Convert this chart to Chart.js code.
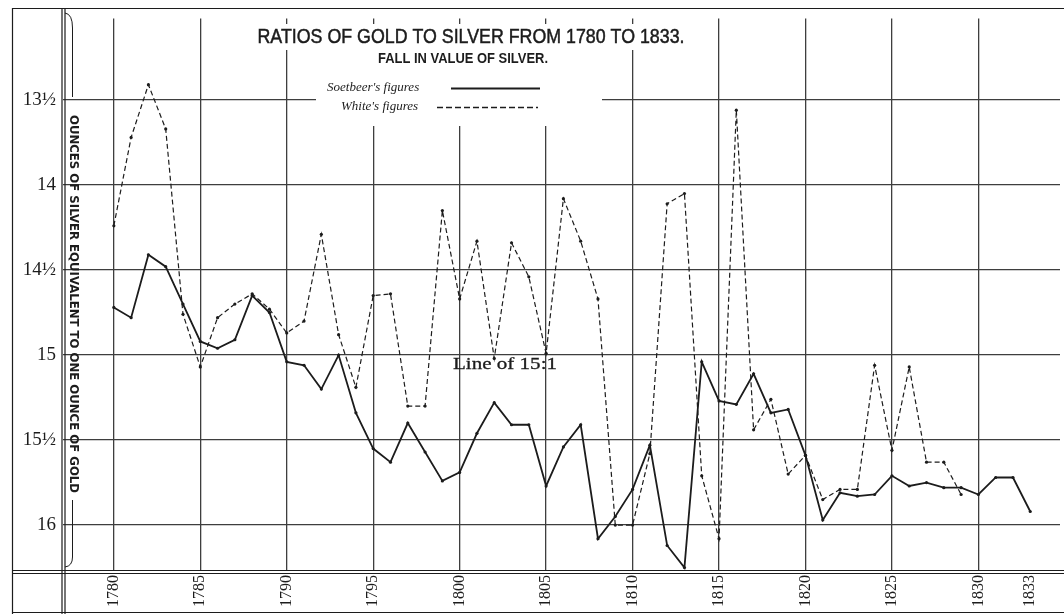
<!DOCTYPE html>
<html>
<head>
<meta charset="utf-8">
<script src="https://cdn.jsdelivr.net/npm/chart.js@4.4.1/dist/chart.umd.min.js"></script>
<style>
  html, body { margin: 0; padding: 0; background: #fff; }
</style>
</head>
<body>
<canvas id="ratioChart" width="1064" height="614"></canvas>
<script>
// years on the x axis
const years = [1780,1781,1782,1783,1784,1785,1786,1787,1788,1789,
               1790,1791,1792,1793,1794,1795,1796,1797,1798,1799,
               1800,1801,1802,1803,1804,1805,1806,1807,1808,1809,
               1810,1811,1812,1813,1814,1815,1816,1817,1818,1819,
               1820,1821,1822,1823,1824,1825,1826,1827,1828,1829,
               1830,1831,1832,1833];

// Soetbeer's figures, 1780-1833
const soetbeer = [14.72,14.78,14.41,14.48,14.70,14.92,14.96,14.91,14.65,14.75,
                  15.04,15.06,15.20,15.00,15.34,15.55,15.63,15.40,15.57,15.74,
                  15.69,15.46,15.28,15.41,15.41,15.77,15.54,15.41,16.08,15.95,
                  15.79,15.53,16.12,16.25,15.04,15.27,15.29,15.11,15.34,15.32,
                  15.59,15.97,15.81,15.83,15.82,15.71,15.77,15.75,15.78,15.78,
                  15.82,15.72,15.72,15.92];

// White's figures, 1780-1829
const white = [14.24,13.72,13.41,13.67,14.76,15.07,14.78,14.70,14.64,14.73,
               14.87,14.80,14.29,14.88,15.19,14.65,14.64,15.30,15.30,14.15,
               14.67,14.33,15.02,14.34,14.54,14.99,14.08,14.33,14.67,16.00,
               16.00,15.58,14.11,14.05,15.71,16.08,13.56,15.44,15.26,15.70,
               15.59,15.85,15.79,15.79,15.06,15.56,15.07,15.63,15.63,15.82];

const xTicks = [1780,1785,1790,1795,1800,1805,1810,1815,1820,1825,1830,1833];
const yTicks = [13.5,14,14.5,15,15.5,16];
const yTickLabels = ['13½','14','14½','15','15½','16'];

const ink = '#1c1c1c';
const gridInk = '#3e3e3e';

function fitText(ctx, text, x, y, width, font, align, stroke) {
  ctx.save();
  ctx.font = font;
  const w = ctx.measureText(text).width;
  ctx.translate(x, y);
  ctx.scale(width / w, 1);
  ctx.textAlign = align || 'center';
  ctx.textBaseline = 'middle';
  ctx.fillText(text, 0, 0);
  if (stroke) {
    ctx.lineWidth = stroke;
    ctx.strokeText(text, 0, 0);
  }
  ctx.restore();
}

// white patches where the title and legend interrupt the grid
const clearTitle = {
  id: 'clearTitle',
  beforeDatasetsDraw(chart) {
    const ctx = chart.ctx;
    ctx.save();
    ctx.fillStyle = '#fff';
    ctx.fillRect(252, 24, 440, 26);
    ctx.fillRect(290, 50, 26, 16);
    ctx.fillRect(316, 50, 286, 76);
    ctx.restore();
  }
};

const decorations = {
  id: 'decorations',
  afterDraw(chart) {
    const ctx = chart.ctx;
    ctx.save();
    ctx.fillStyle = ink;
    ctx.strokeStyle = ink;

    // frame
    ctx.lineWidth = 1.2;
    ctx.beginPath();
    ctx.moveTo(12.5, 8); ctx.lineTo(12.5, 614);
    ctx.moveTo(12, 8.5); ctx.lineTo(1064, 8.5);
    ctx.moveTo(12, 612.5); ctx.lineTo(1064, 612.5);
    ctx.moveTo(62, 8); ctx.lineTo(62, 614);
    ctx.moveTo(65, 8); ctx.lineTo(65, 614);
    ctx.moveTo(12, 570.5); ctx.lineTo(1064, 570.5);
    ctx.moveTo(12, 573.5); ctx.lineTo(1064, 573.5);
    ctx.stroke();

    // bracket by the axis title
    ctx.lineWidth = 1;
    ctx.beginPath();
    ctx.moveTo(65, 13);
    ctx.quadraticCurveTo(72.5, 14, 72.5, 28);
    ctx.lineTo(72.5, 97);
    ctx.moveTo(72.5, 500);
    ctx.lineTo(72.5, 557);
    ctx.quadraticCurveTo(72.5, 566, 65, 567);
    ctx.stroke();

    // axis title
    ctx.save();
    ctx.translate(73, 304);
    ctx.rotate(Math.PI / 2);
    fitText(ctx, 'OUNCES OF SILVER EQUIVALENT TO ONE OUNCE OF GOLD', 0, 0, 378, 'bold 12px "DejaVu Sans"');
    ctx.restore();

    // titles
    fitText(ctx, 'RATIOS OF GOLD TO SILVER FROM 1780 TO 1833.', 471, 37, 427, '21px "Liberation Sans"', 'center', 0.5);
    fitText(ctx, 'FALL IN VALUE OF SILVER.', 463, 59, 170, 'bold 14px "Liberation Sans"');

    // legend
    ctx.font = 'italic 13px "Liberation Serif"';
    ctx.textAlign = 'left';
    ctx.textBaseline = 'middle';
    ctx.fillText("Soetbeer's figures", 327, 88);
    ctx.fillText("White's figures", 341, 107);
    ctx.lineWidth = 2;
    ctx.beginPath();
    ctx.moveTo(451, 88.5); ctx.lineTo(540, 88.5);
    ctx.stroke();
    ctx.lineWidth = 1.3;
    ctx.setLineDash([6, 3]);
    ctx.beginPath();
    ctx.moveTo(437, 107.5); ctx.lineTo(538, 107.5);
    ctx.stroke();
    ctx.setLineDash([]);

    // label on the 15 line
    fitText(ctx, 'Line of 15:1', 453, 365, 104, '17px "Liberation Serif"', 'left', 0.3);
    ctx.restore();
  }
};

new Chart(document.getElementById('ratioChart'), {
  type: 'line',
  data: {
    datasets: [{
      label: "Soetbeer's figures",
      data: years.map((y, i) => ({ x: y, y: soetbeer[i] })),
      borderColor: ink,
      backgroundColor: ink,
      borderWidth: 1.8,
      pointRadius: 1.6,
      pointBorderWidth: 0,
      tension: 0
    }, {
      label: "White's figures",
      data: white.map((v, i) => ({ x: years[i], y: v })),
      borderColor: ink,
      backgroundColor: ink,
      borderWidth: 1.2,
      borderDash: [5, 3],
      pointRadius: 1.6,
      pointBorderWidth: 0,
      tension: 0
    }]
  },
  options: {
    responsive: false,
    animation: false,
    layout: { padding: { top: 10, right: 0, left: 0, bottom: 0 } },
    plugins: {
      legend: { display: false },
      tooltip: { enabled: false }
    },
    scales: {
      x: {
        type: 'linear',
        min: 1777.06,
        max: 1834.72,
        afterBuildTicks: (s) => { s.ticks = xTicks.map(v => ({ value: v })); },
        afterFit: (s) => { s.height = 43; s.paddingLeft = 0; s.paddingRight = 0; },
        grid: {
          color: (c) => (c.tick && c.tick.value === 1833) ? 'rgba(0,0,0,0)' : gridInk,
          lineWidth: 1.3,
          drawTicks: false
        },
        border: { display: false },
        ticks: {
          minRotation: 90,
          maxRotation: 90,
          padding: 4,
          color: ink,
          font: { family: '"Liberation Serif"', size: 16 },
          callback: (v) => String(v)
        }
      },
      y: {
        reverse: true,
        min: 13.02,
        max: 16.27,
        afterBuildTicks: (s) => { s.ticks = yTicks.map(v => ({ value: v })); },
        afterFit: (s) => { s.width = 63; },
        grid: {
          color: gridInk,
          lineWidth: 1.3,
          drawTicks: false
        },
        border: { display: false },
        ticks: {
          padding: 7,
          color: ink,
          font: { family: '"Liberation Serif"', size: 19 },
          callback: (v) => yTickLabels[yTicks.indexOf(v)]
        }
      }
    }
  },
  plugins: [clearTitle, decorations]
});
</script>
</body>
</html>
